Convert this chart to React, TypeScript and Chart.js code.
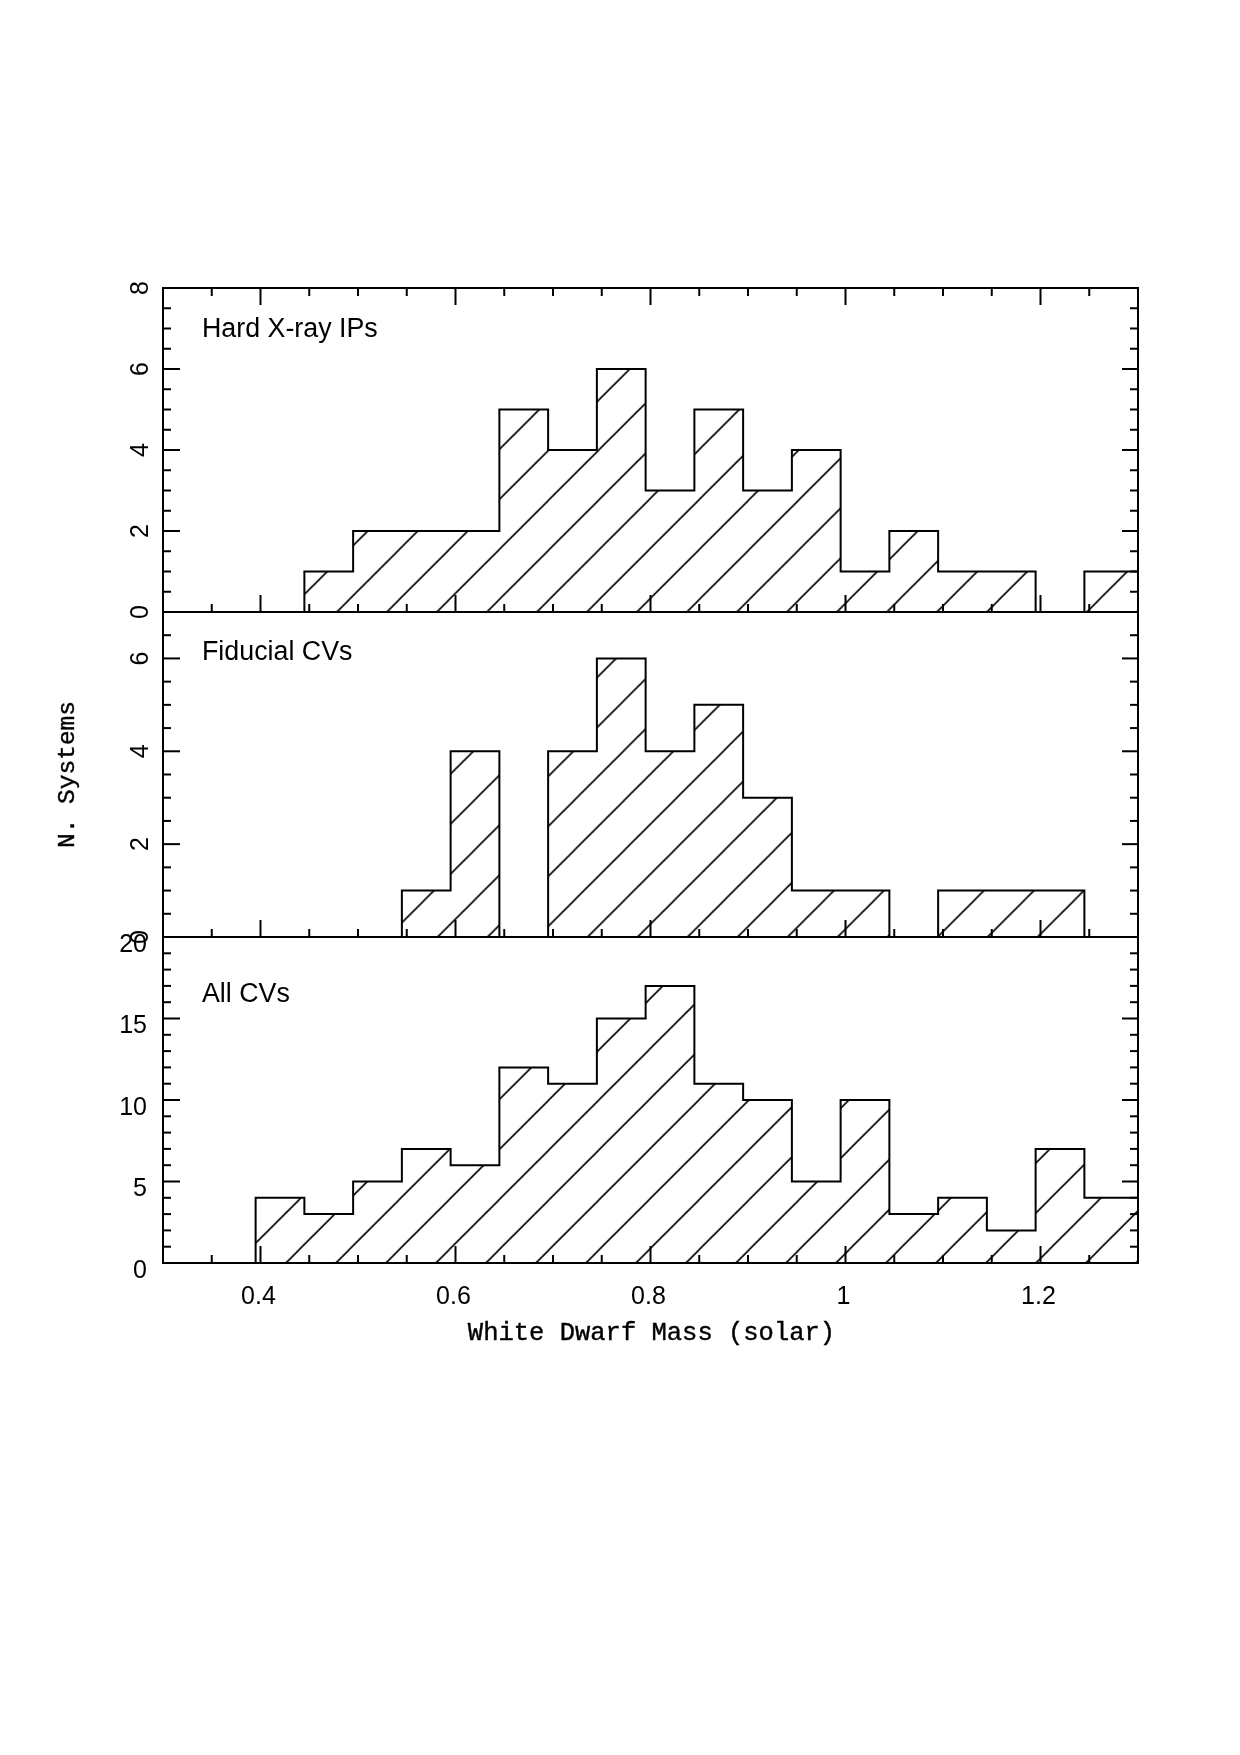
import { useEffect, useRef } from 'react';
import { Chart, registerables } from 'chart.js';

Chart.register(...registerables);

// ---- data ----
const binLeftEdges = [0.295, 0.345, 0.395, 0.445, 0.495, 0.545, 0.595, 0.645, 0.695, 0.745, 0.795, 0.845, 0.895, 0.945, 0.995, 1.045, 1.095, 1.145, 1.195, 1.245];
const closingEdge = 1.35;
const hardXrayIPs = [0, 0, 0, 1, 2, 2, 2, 5, 4, 6, 3, 5, 3, 4, 1, 2, 1, 1, 0, 1];
const fiducialCVs = [0, 0, 0, 0, 0, 1, 4, 0, 4, 6, 4, 5, 3, 1, 1, 0, 1, 1, 1, 0];
const allCVs = [0, 0, 4, 3, 5, 7, 6, 12, 11, 15, 17, 11, 10, 5, 10, 3, 4, 2, 7, 4];

const xTicks = [0.4, 0.6, 0.8, 1.0, 1.2];
const xTickLabels = ['0.4', '0.6', '0.8', '1', '1.2'];
const hardYTicks = [0, 2, 4, 6, 8];
const fidYTicks = [0, 2, 4, 6];
const allYTicks = [0, 5, 10, 15, 20];

const panelTitles = ['Hard X-ray IPs', 'Fiducial CVs', 'All CVs'];
const xAxisTitle = 'White Dwarf Mass (solar)';
const yAxisTitle = 'N. Systems';

const W = 1240;
const H = 1755;

type Panel = {
  counts: number[];
  yMax: number;
  yTicks: number[];
  yMinor: number;
  rotateY: boolean;
  top: number;
  bottom: number;
  topTicks: boolean;
  showX: boolean;
  showYTitle: boolean;
  title: string;
  titleY: number;
  hatchOffset: number;
};

const panels: Panel[] = [
  { counts: hardXrayIPs, yMax: 8, yTicks: hardYTicks, yMinor: 0.5, rotateY: true, top: 288, bottom: 612, topTicks: true, showX: false, showYTitle: false, title: panelTitles[0], titleY: 6.8, hatchOffset: 48.7 },
  { counts: fiducialCVs, yMax: 7, yTicks: fidYTicks, yMinor: 0.5, rotateY: true, top: 612, bottom: 937, topTicks: false, showX: false, showYTitle: true, title: panelTitles[1], titleY: 5.97, hatchOffset: 24.5 },
  { counts: allCVs, yMax: 20, yTicks: allYTicks, yMinor: 1, rotateY: false, top: 937, bottom: 1263, topTicks: false, showX: true, showYTitle: false, title: panelTitles[2], titleY: 16, hatchOffset: 48.8 },
];

function makeHatch(offset: number): CanvasPattern | string {
  const tile = document.createElement('canvas');
  tile.width = 50;
  tile.height = 50;
  const t = tile.getContext('2d');
  if (!t) return 'transparent';
  t.strokeStyle = '#000';
  t.lineWidth = 1.6;
  for (let k = 0; k <= 2; k++) {
    t.beginPath();
    t.moveTo(50 * k - 60, 60);
    t.lineTo(50 * k + 10, -10);
    t.stroke();
  }
  const p = t.createPattern(tile, 'repeat');
  if (!p) return 'transparent';
  p.setTransform(new DOMMatrix([1, 0, 0, 1, offset, 0]));
  return p;
}

function framePlugin(panel: Panel) {
  return {
    id: 'panelFrame',
    afterDraw(chart: any) {
      const { ctx, chartArea: a } = chart;
      const x = chart.scales.x;
      const y = chart.scales.y;
      ctx.save();
      ctx.strokeStyle = '#000';
      ctx.fillStyle = '#000';
      ctx.lineWidth = 2;
      ctx.lineCap = 'butt';
      ctx.strokeRect(a.left, a.top, a.right - a.left, a.bottom - a.top);

      const line = (x1: number, y1: number, x2: number, y2: number) => {
        ctx.beginPath();
        ctx.moveTo(x1, y1);
        ctx.lineTo(x2, y2);
        ctx.stroke();
      };

      // x ticks
      for (let k = 1; k < 20; k++) {
        const v = 0.3 + 0.05 * k;
        const px = x.getPixelForValue(v);
        const major = k % 4 === 2;
        const len = major ? 17 : 8;
        line(px, a.bottom, px, a.bottom - len);
        if (panel.topTicks) line(px, a.top, px, a.top + len);
      }
      // y ticks
      const n = Math.round(panel.yMax / panel.yMinor);
      const majorStep = panel.yTicks[1] - panel.yTicks[0];
      for (let k = 1; k < n; k++) {
        const v = k * panel.yMinor;
        const py = y.getPixelForValue(v);
        const major = Math.abs(v / majorStep - Math.round(v / majorStep)) < 1e-6;
        line(a.left, py, a.left + (major ? 17 : 8), py);
        line(a.right, py, a.right - (major ? 16 : 8), py);
      }

      // y tick labels
      ctx.font = '25px "Liberation Sans", Arial, sans-serif';
      for (const v of panel.yTicks) {
        const py = y.getPixelForValue(v);
        const s = String(v);
        if (panel.rotateY) {
          ctx.save();
          ctx.translate(a.left - 15, py);
          ctx.rotate(-Math.PI / 2);
          ctx.textAlign = 'center';
          ctx.textBaseline = 'alphabetic';
          ctx.fillText(s, 0, 0);
          ctx.restore();
        } else {
          ctx.textAlign = 'right';
          ctx.textBaseline = 'alphabetic';
          ctx.fillText(s, a.left - 16, py + 14.5);
        }
      }

      const serifTitle = (txt: string, px: number, py: number) => {
        ctx.fillText(txt, px, py);
        ctx.lineWidth = 0.4;
        ctx.strokeText(txt, px, py);
        ctx.lineWidth = 2;
      };

      // x tick labels + title
      if (panel.showX) {
        ctx.textAlign = 'center';
        ctx.textBaseline = 'alphabetic';
        xTicks.forEach((v, i) => {
          ctx.fillText(xTickLabels[i], x.getPixelForValue(v) - 2, a.bottom + 40.5);
        });
        ctx.font = '25.5px "Liberation Mono", "Courier New", monospace';
        serifTitle(xAxisTitle, (a.left + a.right) / 2 + 1, a.bottom + 77);
      }
      if (panel.showYTitle) {
        ctx.save();
        ctx.font = '24.5px "Liberation Mono", "Courier New", monospace';
        ctx.translate(74, (a.top + a.bottom) / 2);
        ctx.rotate(-Math.PI / 2);
        ctx.textAlign = 'center';
        ctx.textBaseline = 'alphabetic';
        serifTitle(yAxisTitle, 0, 0);
        ctx.restore();
      }

      // panel label
      ctx.font = '26.8px "Liberation Sans", Arial, sans-serif';
      ctx.textAlign = 'left';
      ctx.textBaseline = 'alphabetic';
      ctx.fillText(panel.title, x.getPixelForValue(0.34), y.getPixelForValue(panel.titleY));
      ctx.restore();
    },
  };
}

function PanelChart({ panel }: { panel: Panel }) {
  const ref = useRef<HTMLCanvasElement>(null);
  useEffect(() => {
    if (!ref.current) return;
    const points = binLeftEdges.map((e, i) => ({ x: e, y: panel.counts[i] }));
    points.push({ x: closingEdge, y: panel.counts[panel.counts.length - 1] });
    const chart = new Chart(ref.current, {
      type: 'line',
      data: {
        datasets: [
          {
            data: points,
            stepped: 'before',
            borderColor: '#000',
            borderWidth: 2,
            backgroundColor: makeHatch(panel.hatchOffset) as any,
            fill: 'origin',
            pointRadius: 0,
            tension: 0,
            clip: 0,
          } as any,
        ],
      },
      options: {
        animation: false,
        responsive: false,
        events: [],
        layout: { padding: { left: 163, right: W - 1138, top: panel.top, bottom: H - panel.bottom } },
        scales: {
          x: { type: 'linear', min: 0.3, max: 1.3, display: false },
          y: { type: 'linear', min: 0, max: panel.yMax, display: false },
        },
        plugins: { legend: { display: false }, tooltip: { enabled: false } },
      },
      plugins: [framePlugin(panel)],
    });
    return () => chart.destroy();
  }, [panel]);
  return (
    <canvas
      ref={ref}
      width={W}
      height={H}
      style={{ position: 'absolute', left: 0, top: 0, width: W, height: H }}
    />
  );
}

export default function App() {
  return (
    <div style={{ position: 'absolute', left: 0, top: 0, width: W, height: H, background: '#fff' }}>
      {panels.map((p, i) => (
        <PanelChart key={i} panel={p} />
      ))}
    </div>
  );
}
